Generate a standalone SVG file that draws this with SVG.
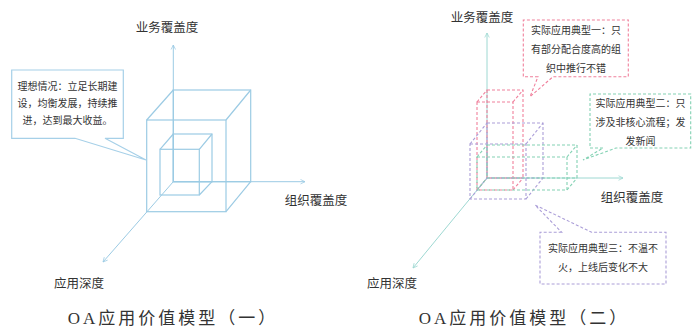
<svg xmlns="http://www.w3.org/2000/svg" width="700" height="327" viewBox="0 0 700 327">
<defs>
<marker id="arrB" viewBox="0 0 8 8" refX="7" refY="4" markerWidth="6" markerHeight="6" orient="auto" markerUnits="userSpaceOnUse">
<path d="M1,1 L7,4 L1,7" fill="none" stroke="#9ccbe4" stroke-width="1"/>
</marker>
<marker id="arrT" viewBox="0 0 8 8" refX="7" refY="4" markerWidth="6" markerHeight="6" orient="auto" markerUnits="userSpaceOnUse">
<path d="M1,1 L7,4 L1,7" fill="none" stroke="#9ed8d2" stroke-width="1"/>
</marker>
<style>
.axB{stroke:#9ccbe4;stroke-width:1;fill:none}
.axT{stroke:#9ed8d2;stroke-width:1;fill:none}
.cube{stroke:#9ccbe4;stroke-width:1.2;fill:none}
.red{stroke:#f0809c;stroke-width:1.1;fill:none;stroke-dasharray:3 2}
.grn{stroke:#84d2b4;stroke-width:1.1;fill:none;stroke-dasharray:3 2}
.pur{stroke:#ab9ed8;stroke-width:1.1;fill:none;stroke-dasharray:3 2}
.lbl{font-family:"Noto Sans CJK SC","Noto Sans",sans-serif;font-size:12.5px;fill:#333;text-anchor:middle}
.ct{font-family:"Noto Sans CJK SC","Noto Sans",sans-serif;font-size:10px;fill:#333;text-anchor:middle}
.cap{font-family:"Liberation Serif","Noto Sans CJK SC",serif;font-size:17px;fill:#333;text-anchor:middle;letter-spacing:3px}
</style>
</defs>
<rect width="700" height="327" fill="#fff"/>

<g id="connectors">
<!-- left axes -->
<line class="axB" x1="173.3" y1="181.7" x2="173.3" y2="45" marker-end="url(#arrB)"/>
<line class="axB" x1="173.3" y1="181.7" x2="305" y2="181.7" marker-end="url(#arrB)"/>
<line class="axB" x1="173.3" y1="181.7" x2="103" y2="262" marker-end="url(#arrB)"/>
<!-- right axes -->
<line class="axT" x1="487" y1="178" x2="487" y2="33" marker-end="url(#arrT)"/>
<line class="axT" x1="487" y1="178" x2="623" y2="178" marker-end="url(#arrT)"/>
<line class="axT" x1="487" y1="178" x2="413" y2="268" marker-end="url(#arrT)"/>
</g>

<g id="cube-big">
<rect class="cube" x="173.3" y="90" width="77.4" height="91.7"/>
<rect class="cube" x="146.7" y="120" width="79.3" height="91.7"/>
<path class="cube" d="M146.7,120 L173.3,90 M226,120 L250.7,90 M226,211.7 L250.7,181.7"/>
</g>
<g id="cube-small">
<rect class="cube" x="173.3" y="134" width="38.7" height="47.7"/>
<rect class="cube" x="160" y="149.3" width="39.3" height="45.7"/>
<path class="cube" d="M160,149.3 L173.3,134 M199.3,149.3 L212,134 M199.3,195 L212,181.7"/>
</g>

<g id="callout-ideal">
<path d="M75,138.3 L11.7,138.3 L11.7,70 L123.3,70 L123.3,138.3 L105,138.3 L146,160 Z" fill="#fff" stroke="#a6d0e8" stroke-width="1.2"/>
<text class="ct" x="67.5" y="90">理想情况：立足长期建</text>
<text class="ct" x="67.5" y="107">设，均衡发展，持续推</text>
<text class="ct" x="67.5" y="124">进，达到最大收益。</text>
</g>

<g id="box-red">
<rect class="red" x="487" y="90" width="36" height="88"/>
<rect class="red" x="477" y="102" width="36" height="88"/>
<path class="red" d="M477,102 L487,90 M513,102 L523,90 M513,190 L523,178 M477,190 L487,178"/>
</g>
<g id="box-purple">
<rect class="pur" x="487" y="123" width="56" height="55"/>
<rect class="pur" x="470" y="144" width="56" height="55"/>
<path class="pur" d="M470,144 L487,123 M526,144 L543,123 M526,199 L543,178 M470,199 L487,178"/>
</g>
<g id="box-green">
<rect class="grn" x="487" y="145" width="90" height="33"/>
<rect class="grn" x="477" y="157" width="90" height="33"/>
<path class="grn" d="M477,157 L487,145 M567,157 L577,145 M567,190 L577,178 M477,190 L487,178"/>
</g>

<g id="callout-1">
<path class="red" d="M538,76.7 L523.3,76.7 L523.3,20 L628.3,20 L628.3,76.7 L553,76.7 L530,96.7 Z" fill="#fff"/>
<text class="ct" x="576" y="34">实际应用典型一：只</text>
<text class="ct" x="576" y="53">有部分配合度高的组</text>
<text class="ct" x="576" y="72">织中推行不错</text>
</g>
<g id="callout-2">
<path class="grn" d="M603,148 L590,148 L590,94 L690.7,94 L690.7,148 L616,148 L583,160 Z" fill="#fff"/>
<text class="ct" x="640.5" y="107">实际应用典型二：只</text>
<text class="ct" x="640.5" y="126">涉及非核心流程；发</text>
<text class="ct" x="640.5" y="145">发新闻</text>
</g>
<g id="callout-3">
<path class="pur" d="M561.7,232.3 L540,232.3 L540,284 L666,284 L666,232.3 L591.7,232.3 L535,205 Z" fill="#fff"/>
<text class="ct" x="603" y="252">实际应用典型三：不温不</text>
<text class="ct" x="603" y="271">火，上线后变化不大</text>
</g>

<g id="labels">
<text class="lbl" x="167" y="32">业务覆盖度</text>
<text class="lbl" x="316" y="205">组织覆盖度</text>
<text class="lbl" x="79" y="288">应用深度</text>
<text class="lbl" x="482" y="22">业务覆盖度</text>
<text class="lbl" x="632" y="202">组织覆盖度</text>
<text class="lbl" x="392" y="288">应用深度</text>
<text class="cap" x="173" y="324">OA应用价值模型（一）</text>
<text class="cap" x="524" y="324">OA应用价值模型（二）</text>
</g>
</svg>
